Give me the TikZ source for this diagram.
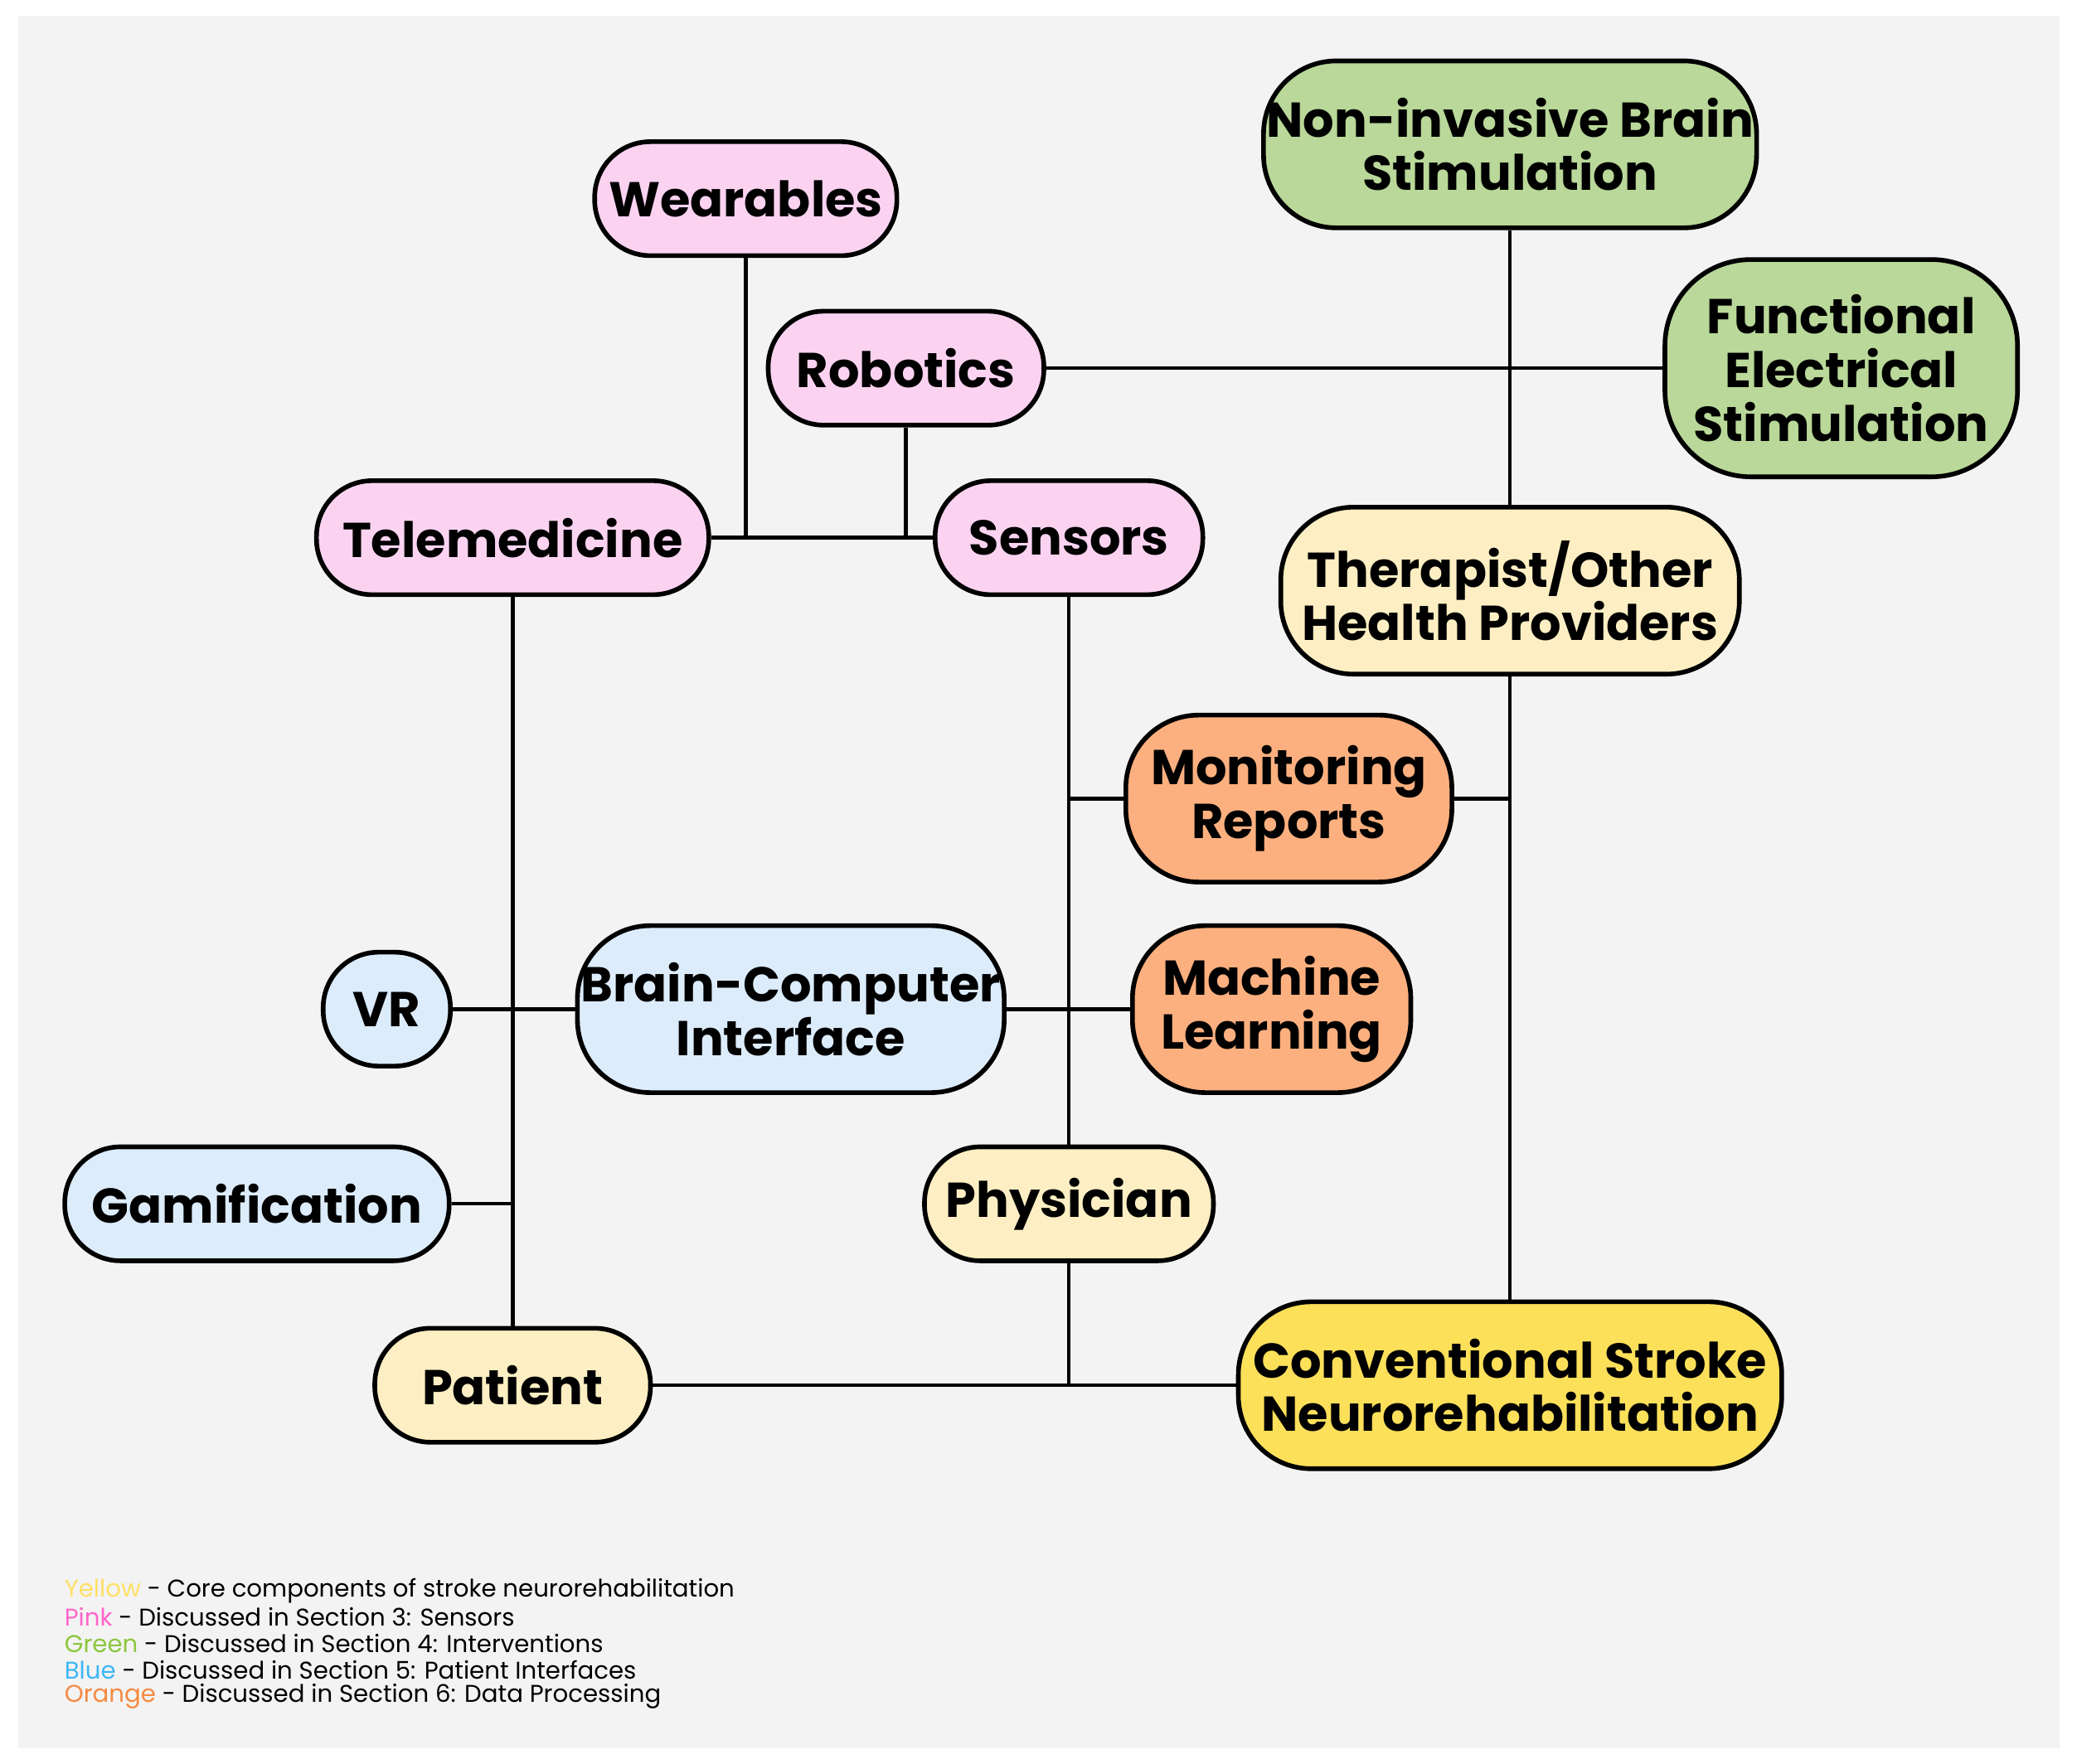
\documentclass[tikz,border=0pt]{standalone}
\usepackage{fontspec}
\setmainfont{Poppins}
\definecolor{bg}{HTML}{F3F3F3}
\definecolor{pk}{HTML}{FBD3F1}
\definecolor{gr}{HTML}{B9D899}
\definecolor{ly}{HTML}{FDEFC3}
\definecolor{og}{HTML}{FDB07F}
\definecolor{bl}{HTML}{DCECFB}
\definecolor{sy}{HTML}{FDE05A}
\definecolor{lyel}{HTML}{FFE066}
\definecolor{lpk}{HTML}{FF66CC}
\definecolor{lgr}{HTML}{8DC63F}
\definecolor{lbl}{HTML}{3DB7F5}
\definecolor{log}{HTML}{F58A42}
\begin{document}
\begin{tikzpicture}[x=0.01cm,y=-0.01cm,
  box/.style n args={3}{draw=black,line width=1pt,fill=#1,minimum width=#2 cm,minimum height=#3 cm,
     rounded corners=0.42cm,align=center,inner sep=0pt,font=\fontsize{10.5}{11.5}\selectfont\bfseries},
  ln/.style={line width=0.8pt},
  leg/.style={anchor=west,inner sep=0pt,font=\fontsize{5.2}{6}\selectfont}]
\useasboundingbox (0,0) rectangle (1568,1332);
\fill[bg] (14,12) rectangle (1555,1320);
% coordinates
\coordinate (jw) at (563,406);
\coordinate (jr) at (684,406);
\coordinate (jn) at (1140,278);
\coordinate (jm) at (1140,603);
\coordinate (jml) at (807,603);
\coordinate (jb) at (807,762);
\coordinate (jv) at (387,762);
\coordinate (jg) at (387,909);
\coordinate (jp) at (807,1046);
% nodes
\node[box={pk}{2.28}{0.86}] (wear) at (563,150) {Wearables};
\node[box={pk}{2.08}{0.86}] (rob) at (684,278) {Robotics};
\node[box={pk}{2.96}{0.86}] (tele) at (387,406) {Telemedicine};
\node[box={pk}{2.02}{0.86}] (sens) at (807,406) {Sensors};
\node[box={gr}{3.72}{1.26},rounded corners=0.55cm] (nibs) at (1140,109) {Non-invasive Brain\\Stimulation};
\node[box={gr}{2.66}{1.64},rounded corners=0.65cm] (fes) at (1390,278) {Functional\\Electrical\\Stimulation};
\node[box={ly}{3.46}{1.26},rounded corners=0.55cm] (ther) at (1140,446) {Therapist/Other\\Health Providers};
\node[box={og}{2.46}{1.26},rounded corners=0.55cm] (mon) at (973,603) {Monitoring\\Reports};
\node[box={og}{2.10}{1.26},rounded corners=0.55cm] (ml) at (960,762) {Machine\\Learning};
\node[box={bl}{3.22}{1.26},rounded corners=0.55cm] (bci) at (597,762) {Brain-Computer\\Interface};
\node[box={bl}{0.96}{0.86}] (vr) at (292,762) {VR};
\node[box={bl}{2.90}{0.86}] (gam) at (194,909) {Gamification};
\node[box={ly}{2.18}{0.86}] (phy) at (807,909) {Physician};
\node[box={ly}{2.08}{0.86}] (pat) at (387,1046) {Patient};
\node[box={sy}{4.10}{1.26},rounded corners=0.55cm] (csn) at (1140,1046) {Conventional Stroke\\Neurorehabilitation};
% connectors
\draw[ln] (tele) -- (sens);
\draw[ln] (wear) -- (jw);
\draw[ln] (rob) -- (jr);
\draw[ln] (rob) -- (fes);
\draw[ln] (nibs) -- (ther);
\draw[ln] (ther) -- (csn);
\draw[ln] (mon) -- (jm);
\draw[ln] (sens) -- (phy);
\draw[ln] (mon) -- (jml);
\draw[ln] (bci) -- (ml);
\draw[ln] (tele) -- (pat);
\draw[ln] (vr) -- (bci);
\draw[ln] (gam) -- (jg);
\draw[ln] (phy) -- (jp);
\draw[ln] (pat) -- (csn);
% legend
\node[leg] (l1) at (48,1201) {\textcolor{lyel}{Yellow} - Core components of stroke neurorehabilitation};
\node[leg] (l2) at (48,1221) {\textcolor{lpk}{Pink} - Discussed in Section 3: Sensors};
\node[leg] (l3) at (48,1241) {\textcolor{lgr}{Green} - Discussed in Section 4: Interventions};
\node[leg] (l4) at (48,1261) {\textcolor{lbl}{Blue} - Discussed in Section 5: Patient Interfaces};
\node[leg] (l5) at (48,1281) {\textcolor{log}{Orange} - Discussed in Section 6: Data Processing};
\end{tikzpicture}
\end{document}
